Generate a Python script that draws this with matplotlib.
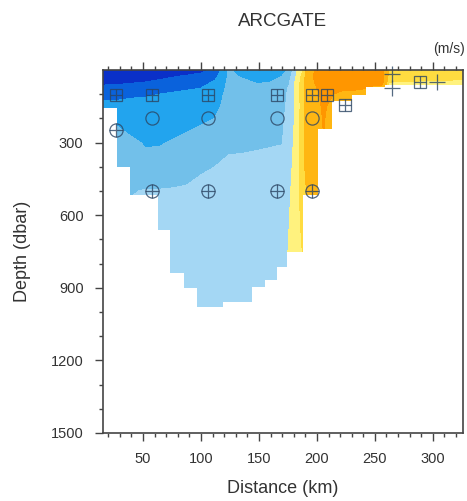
import matplotlib.pyplot as plt
import numpy as np

plt.rcParams["font.family"] = ["Liberation Sans", "DejaVu Sans"]

# section grid
dist_km = [15, 28, 40, 52, 64, 76, 88, 100, 112, 124, 136, 148, 160, 170, 176,
           182, 188, 194, 200, 206, 214, 222, 236, 250, 256, 262, 290, 327]
depth_dbar = [0, 25, 50, 75, 100, 150, 200, 300, 400, 500, 650, 800, 1000]

# velocity profile (m/s) at each distance, top to bottom
profiles = [
    [-0.45, -0.38, -0.33, -0.27, -0.23, -0.17, -0.13, -0.09, -0.07, -0.05, -0.04, -0.03, -0.03],
    [-0.45, -0.38, -0.32, -0.27, -0.23, -0.17, -0.11, -0.08, -0.065, -0.055, -0.045, -0.035, -0.03],
    [-0.44, -0.37, -0.31, -0.26, -0.22, -0.16, -0.13, -0.09, -0.07, -0.052, -0.04, -0.035, -0.03],
    [-0.42, -0.35, -0.30, -0.25, -0.21, -0.17, -0.14, -0.105, -0.08, -0.048, -0.04, -0.035, -0.03],
    [-0.40, -0.33, -0.28, -0.23, -0.20, -0.16, -0.14, -0.105, -0.075, -0.048, -0.04, -0.035, -0.03],
    [-0.38, -0.31, -0.26, -0.22, -0.19, -0.16, -0.13, -0.095, -0.07, -0.047, -0.04, -0.035, -0.03],
    [-0.36, -0.29, -0.25, -0.21, -0.18, -0.15, -0.12, -0.085, -0.065, -0.045, -0.04, -0.035, -0.03],
    [-0.33, -0.27, -0.23, -0.20, -0.17, -0.14, -0.11, -0.075, -0.055, -0.04, -0.035, -0.03, -0.03],
    [-0.28, -0.23, -0.19, -0.16, -0.14, -0.12, -0.10, -0.07, -0.05, -0.04, -0.035, -0.03, -0.03],
    [-0.09, -0.085, -0.08, -0.078, -0.075, -0.07, -0.065, -0.055, -0.045, -0.038, -0.033, -0.03, -0.03],
    [-0.13, -0.11, -0.085, -0.08, -0.075, -0.07, -0.065, -0.054, -0.045, -0.038, -0.033, -0.03, -0.03],
    [-0.16, -0.13, -0.105, -0.085, -0.08, -0.072, -0.066, -0.053, -0.044, -0.036, -0.032, -0.03, -0.03],
    [-0.15, -0.125, -0.10, -0.085, -0.078, -0.07, -0.064, -0.052, -0.042, -0.035, -0.03, -0.028, -0.028],
    [-0.12, -0.10, -0.085, -0.075, -0.07, -0.065, -0.06, -0.051, -0.04, -0.032, -0.028, -0.025, -0.025],
    [-0.09, -0.07, -0.055, -0.045, -0.04, -0.035, -0.03, -0.022, -0.015, -0.008, 0.0, 0.008, 0.008],
    [-0.01, 0.0, 0.01, 0.015, 0.01, 0.008, 0.01, 0.015, 0.02, 0.025, 0.03, 0.035, 0.035],
    [0.05, 0.07, 0.08, 0.09, 0.085, 0.08, 0.085, 0.09, 0.09, 0.08, 0.06, 0.05, 0.05],
    [0.16, 0.17, 0.16, 0.15, 0.15, 0.15, 0.15, 0.14, 0.13, 0.12, 0.10, 0.08, 0.08],
    [0.22, 0.23, 0.22, 0.20, 0.18, 0.17, 0.16, 0.15, 0.14, 0.13, 0.12, 0.10, 0.10],
    [0.25, 0.26, 0.25, 0.24, 0.23, 0.22, 0.21, 0.20, 0.18, 0.16, 0.14, 0.12, 0.12],
    [0.26, 0.27, 0.26, 0.24, 0.20, 0.15, 0.12, 0.10, 0.09, 0.08, 0.07, 0.06, 0.06],
    [0.26, 0.27, 0.25, 0.22, 0.17, 0.12, 0.10, 0.09, 0.08, 0.07, 0.06, 0.05, 0.05],
    [0.25, 0.26, 0.24, 0.22, 0.15, 0.09, 0.08, 0.07, 0.06, 0.05, 0.05, 0.05, 0.05],
    [0.24, 0.25, 0.22, 0.18, 0.12, 0.08, 0.07, 0.06, 0.05, 0.05, 0.05, 0.05, 0.05],
    [0.25, 0.25, 0.23, 0.17, 0.11, 0.08, 0.07, 0.06, 0.05, 0.05, 0.05, 0.05, 0.05],
    [0.09, 0.08, 0.05, 0.04, 0.035, 0.03, 0.03, 0.03, 0.03, 0.03, 0.03, 0.03, 0.03],
    [0.08, 0.07, 0.045, 0.04, 0.035, 0.03, 0.03, 0.03, 0.03, 0.03, 0.03, 0.03, 0.03],
    [0.07, 0.065, 0.04, 0.035, 0.03, 0.03, 0.03, 0.03, 0.03, 0.03, 0.03, 0.03, 0.03],
]

# deepest valid data (stepped bottom of the section)
bottom_edges_km = [15, 27.5, 39, 63, 73, 85, 97, 119, 144, 155, 166, 174, 188,
                   201, 213, 230, 242, 259, 327]
bottom_dbar = [155, 400, 516, 661, 838, 900, 979, 958, 896, 867, 814, 752, 516,
               245, 130, 105, 72, 60, 60]

levels = [-1.0, -0.3, -0.2, -0.1, -0.05, 0.0, 0.05, 0.1, 0.2, 1.0]
fill_colors = ["#0a30c8", "#0a62dc", "#22a4ee", "#72c0ea", "#a4d7f4",
               "#fff27e", "#ffdc40", "#ffb612", "#ff9600"]

# mooring instruments (km, dbar)
adcp_km = [26.7, 57.8, 106, 166, 196, 209, 224, 289]
adcp_dbar = [103, 103, 103, 103, 103, 103, 145, 50]
rcm_km = [57.8, 106, 166, 196]
rcm_dbar = [198, 198, 198, 198]
mc_km = [26.7, 57.8, 106, 166, 196]
mc_dbar = [250, 500, 500, 500, 500]
ctd_km = [265, 265, 304]
ctd_dbar = [15, 75, 50]

W, H = 467, 501
fig = plt.figure(figsize=(W / 100, H / 100), dpi=100)
ax = fig.add_axes([103 / W, 1 - 433 / H, 360 / W, 363 / H])

vel = np.array(profiles).T
ax.contourf(dist_km, depth_dbar, vel, levels=levels, colors=fill_colors)
ax.fill_between(bottom_edges_km, bottom_dbar, 1600, step="post",
                color="white", lw=0, zorder=2)

mk = dict(ls="none", color="#2b4563", alpha=0.8, mew=0.9, zorder=5, clip_on=False)
ax.plot(adcp_km, adcp_dbar, marker="s", ms=8.5, mfc="none", **mk)
ax.plot(adcp_km, adcp_dbar, marker="+", ms=8.5, **mk)
ax.plot(rcm_km, rcm_dbar, marker="o", ms=9.5, mfc="none", **mk)
ax.plot(mc_km, mc_dbar, marker="o", ms=9.5, mfc="none", **mk)
ax.plot(mc_km, mc_dbar, marker="+", ms=9.5, **mk)
ax.plot(ctd_km, ctd_dbar, marker="+", ms=11, **mk)

ax.set_xlim(15.5, 326)
ax.set_ylim(1500, 0)
ax.set_xticks([50, 100, 150, 200, 250, 300])
ax.set_xticks(np.arange(20, 330, 10), minor=True)
ax.set_yticks([300, 600, 900, 1200, 1500])
ax.set_yticks(np.arange(100, 1500, 100), minor=True)
ax.tick_params(which="both", direction="out", top=True, right=False,
               colors="#444444", labelcolor="#333333", labelsize=10.5, width=1)
ax.tick_params(which="major", length=6)
ax.tick_params(which="minor", length=3)
ax.tick_params(axis="x", which="major", pad=8)
ax.tick_params(axis="y", which="major", pad=8)
for s in ax.spines.values():
    s.set_color("#444444")
    s.set_linewidth(1.2)
    s.set_zorder(6)

ax.set_xlabel("Distance (km)", fontsize=13, color="#333333", labelpad=10)
ax.set_ylabel("Depth (dbar)", fontsize=13, color="#333333", labelpad=14)

fig.text(283 / W, 1 - 21 / H, "ARCGATE", ha="center", va="center",
         fontsize=13.5, color="#333333")
fig.text(465 / W, 1 - 49 / H, "(m/s)", ha="right", va="center",
         fontsize=10, color="#333333")

fig.savefig("out.png", dpi=100)
